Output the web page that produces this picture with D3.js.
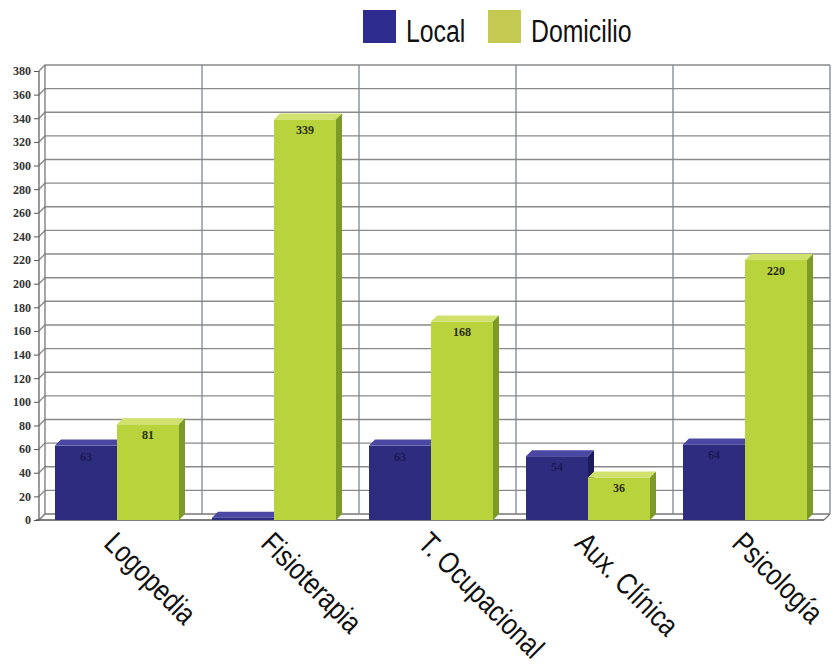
<!DOCTYPE html>
<html><head><meta charset="utf-8">
<script src="https://cdn.jsdelivr.net/npm/d3@7/dist/d3.min.js"></script>
<style>body{margin:0;background:#fff}svg{display:block}</style>
</head><body>
<svg id="c" width="833" height="664"></svg>
<script>
const categories = ["Logopedia","Fisioterapia","T. Ocupacional","Aux. Clínica","Psicología"];
const seriesNames = ["Local","Domicilio"];
const localValues = [63, 2, 63, 54, 64];
const domicilioValues = [81, 339, 168, 36, 220];
const yTicks = d3.range(0, 381, 20);

(function(){
const svg = d3.select("#c");
const pLeft = 39, pRight = 824, pTop = 71, pBottom = 520;
const dx = 6, dy = -6;
const cond = "'Liberation Sans','Arimo',Arial,sans-serif";
const sx = 0.8, sxl = 0.82;

const x = d3.scaleBand().domain(categories).range([pLeft, pRight]).paddingInner(0).paddingOuter(0);
const y = d3.scaleLinear().domain([0, 380]).range([pBottom, pTop]);

const data = categories.map((c,i)=>({cat:c, vals:[localValues[i], domicilioValues[i]]}));
const colors = [
  {front:"#2e2c7e", top:"#4a48a2", side:"#1e1c58", label:"#1c1a55"},
  {front:"#b9d33c", top:"#d0e26c", side:"#7d9a29", label:"#2b2b12"}
];
const legendColors = ["#2e2d8f", "#c4c952"];

const g = svg.append("g");
yTicks.forEach(t=>{
  const yy = y(t);
  g.append("path").attr("d", `M${pLeft},${yy} L${pLeft+dx},${yy+dy} L${pRight+dx},${yy+dy}`)
    .attr("fill","none").attr("stroke", t===0?"#777":"#8a8a8a").attr("stroke-width",1.4);
});
categories.forEach((c,i)=>{
  const xx = x(c) + x.bandwidth() + dx;
  g.append("line").attr("x1",xx).attr("x2",xx).attr("y1",y(380)+dy).attr("y2",pBottom+dy)
   .attr("stroke","#7f8594").attr("stroke-width",1.3);
});
g.append("line").attr("x1",pLeft+dx).attr("x2",pLeft+dx).attr("y1",y(380)+dy).attr("y2",pBottom+dy).attr("stroke","#777").attr("stroke-width",1.3);
g.append("line").attr("x1",pLeft).attr("x2",pLeft).attr("y1",y(380)).attr("y2",pBottom).attr("stroke","#666").attr("stroke-width",1.3);
g.append("line").attr("x1",pLeft-3).attr("x2",pRight).attr("y1",pBottom).attr("y2",pBottom).attr("stroke","#555").attr("stroke-width",1.5);
g.append("line").attr("x1",pRight).attr("x2",pRight+dx).attr("y1",pBottom).attr("y2",pBottom+dy).attr("stroke","#777").attr("stroke-width",1.2);

const yAxis = d3.axisLeft(y).tickValues(yTicks).tickSize(5).tickPadding(3);
const ya = svg.append("g").attr("transform",`translate(${pLeft},0)`).call(yAxis);
ya.select(".domain").remove();
ya.selectAll(".tick line").attr("stroke","#555");
ya.selectAll(".tick text").attr("font-family","'Liberation Serif','DejaVu Serif',serif").attr("font-weight","bold")
  .attr("font-size",12).attr("fill","#333");

const inner = d3.scaleBand().domain([0,1]).range([16, 16+124]);
const bw = inner.bandwidth();
const bars = svg.append("g");
data.forEach(d=>{
  d.vals.forEach((v,si)=>{
    const x0 = x(d.cat) + inner(si);
    const y0 = y(v);
    const c = colors[si];
    const bg = bars.append("g");
    bg.append("rect").attr("x",x0).attr("y",y0).attr("width",bw).attr("height",pBottom-y0).attr("fill",c.front);
    bg.append("path").attr("d",`M${x0},${y0} L${x0+dx},${y0+dy} L${x0+bw+dx},${y0+dy} L${x0+bw},${y0} Z`).attr("fill",c.top);
    bg.append("path").attr("d",`M${x0+bw},${y0} L${x0+bw+dx},${y0+dy} L${x0+bw+dx},${pBottom+dy} L${x0+bw},${pBottom} Z`).attr("fill",c.side);
    if (v >= 10) {
      bg.append("text").attr("x",x0+bw/2).attr("y",y0+15).attr("text-anchor","middle")
        .attr("font-family","'Liberation Serif','DejaVu Serif',serif").attr("font-weight","bold")
        .attr("font-size",12).attr("fill",c.label).text(v);
    }
  });
});

const xl = svg.append("g");
categories.forEach(c=>{
  const cx = x(c) + x.bandwidth()/2 - 15;
  xl.append("text").attr("transform",`translate(${cx},${545}) rotate(45) scale(${sxl},1)`)
    .attr("font-family",cond).attr("font-size",30).attr("fill","#111").text(c);
});

const lg = svg.append("g");
const legX = [363, 488];
seriesNames.forEach((n,i)=>{
  lg.append("rect").attr("x",legX[i]).attr("y",10).attr("width",33).attr("height",33).attr("fill",legendColors[i]);
  lg.append("text").attr("transform",`translate(${legX[i]+43},42) scale(${sx},1)`)
    .attr("font-family",cond).attr("font-size",31).attr("fill","#111").text(n);
});
})();
</script>
</body></html>
